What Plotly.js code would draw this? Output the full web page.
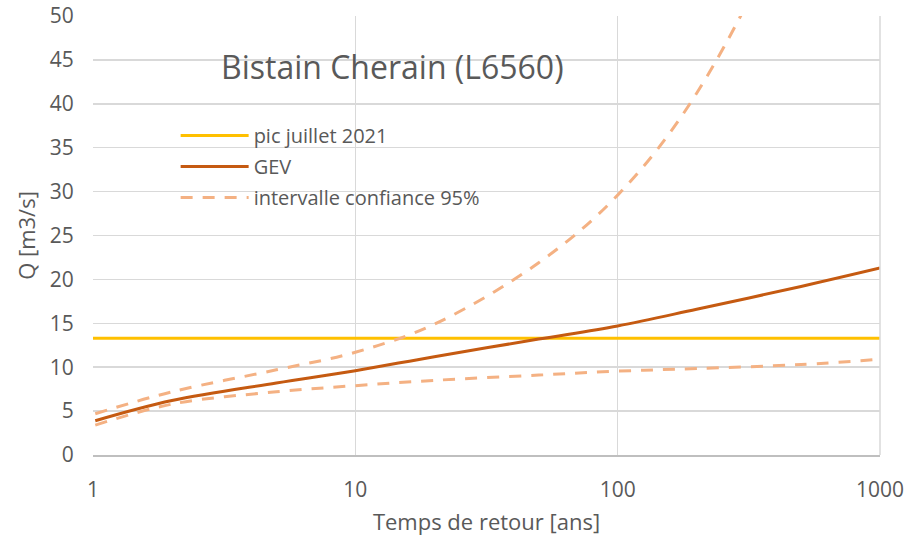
<!DOCTYPE html>
<html>
<head>
<meta charset="utf-8">
<script src="https://cdn.plot.ly/plotly-3.0.1.min.js"></script>
<style>html,body{margin:0;padding:0;background:#fff;}#chart{width:912px;height:544px;}</style>
</head>
<body>
<div id="chart"></div>
<script>
// Return periods [years]
const returnPeriods = [1.02, 2, 5, 10, 20, 50, 100, 200, 500, 1000];
// GEV fit [m3/s]
const gevValues = [3.9, 6.2, 8.2, 9.6, 11.2, 13.2, 14.7, 16.6, 19.2, 21.3];
// 95% confidence interval bounds
const ciUpper = [4.7, 7.2, 9.7, 11.7, 14.9, 21.9, 29.6, 41.2, 65, 95];
const ciLower = [3.4, 5.8, 7.2, 7.9, 8.5, 9.1, 9.55, 9.85, 10.3, 10.9];
// July 2021 peak
const peakPeriods = [1, 1000];
const peakValues = [13.3, 13.3];
// Tick labels
const xTicks = [1, 10, 100, 1000];
const xTickLabels = ['1', '10', '100', '1000'];
const yTicks = [0, 5, 10, 15, 20, 25, 30, 35, 40, 45, 50];

const font = 'Open Sans, Noto Sans, sans-serif';
const grey = '#595959';

const traces = [
  {x: peakPeriods, y: peakValues, mode: 'lines', name: 'pic juillet 2021', legendgroup: 'a',
   line: {color: '#FFC000', width: 3}},
  {x: returnPeriods, y: gevValues, mode: 'lines', name: 'GEV', legendgroup: 'b',
   line: {color: '#C55A11', width: 3, shape: 'spline'}},
  {x: returnPeriods, y: ciUpper, mode: 'lines', name: 'intervalle confiance 95%', legendgroup: 'c',
   line: {color: '#F4B183', width: 3, dash: '12px,10px', shape: 'spline'}},
  {x: returnPeriods, y: ciLower, mode: 'lines', name: 'intervalle confiance 95% (bas)', legendgroup: 'c',
   showlegend: false,
   line: {color: '#F4B183', width: 3, dash: '12px,10px', shape: 'spline'}}
];

const layout = {
  width: 912, height: 544,
  margin: {l: 93, r: 32, t: 16, b: 89},
  paper_bgcolor: '#fff', plot_bgcolor: '#fff',
  font: {family: font, color: grey, size: 21},
  showlegend: true,
  legend: {x: 0.105, y: 0.772, xanchor: 'left', yanchor: 'top', itemwidth: 68,
    bgcolor: 'rgba(0,0,0,0)', font: {size: 20, color: grey}, tracegroupgap: 2},
  xaxis: {type: 'log', range: [0, 3], tickvals: xTicks, ticktext: xTickLabels,
    showgrid: true, gridcolor: '#d9d9d9', gridwidth: 1.5,
    showline: true, linecolor: '#bfbfbf', linewidth: 1.5,
    ticks: 'outside', ticklen: 15, tickcolor: 'rgba(0,0,0,0)',
    zeroline: false, mirror: false,
    tickfont: {size: 21, color: grey},
    title: {text: 'Temps de retour [ans]', font: {size: 22, color: grey}, standoff: 13}},
  yaxis: {range: [0, 50], tickvals: yTicks, showgrid: true, gridcolor: '#d9d9d9', gridwidth: 1.5,
    zeroline: false, showline: false,
    ticks: 'outside', ticklen: 14, tickcolor: 'rgba(0,0,0,0)',
    tickfont: {size: 21, color: grey},
    title: {text: 'Q [m3/s]', font: {size: 22, color: grey}, standoff: 8}},
  shapes: [
    {type: 'line', xref: 'paper', yref: 'paper', x0: 1, x1: 1, y0: 0, y1: 1,
     line: {color: '#d9d9d9', width: 1.5}}
  ],
  annotations: [
    {text: 'Bistain Cherain (L6560)', xref: 'paper', yref: 'paper', x: 0.38, y: 0.885,
     xanchor: 'center', yanchor: 'middle', showarrow: false,
     font: {size: 32, color: grey, family: font}}
  ]
};

Plotly.newPlot('chart', traces, layout, {displayModeBar: false, staticPlot: true});
</script>
</body>
</html>
